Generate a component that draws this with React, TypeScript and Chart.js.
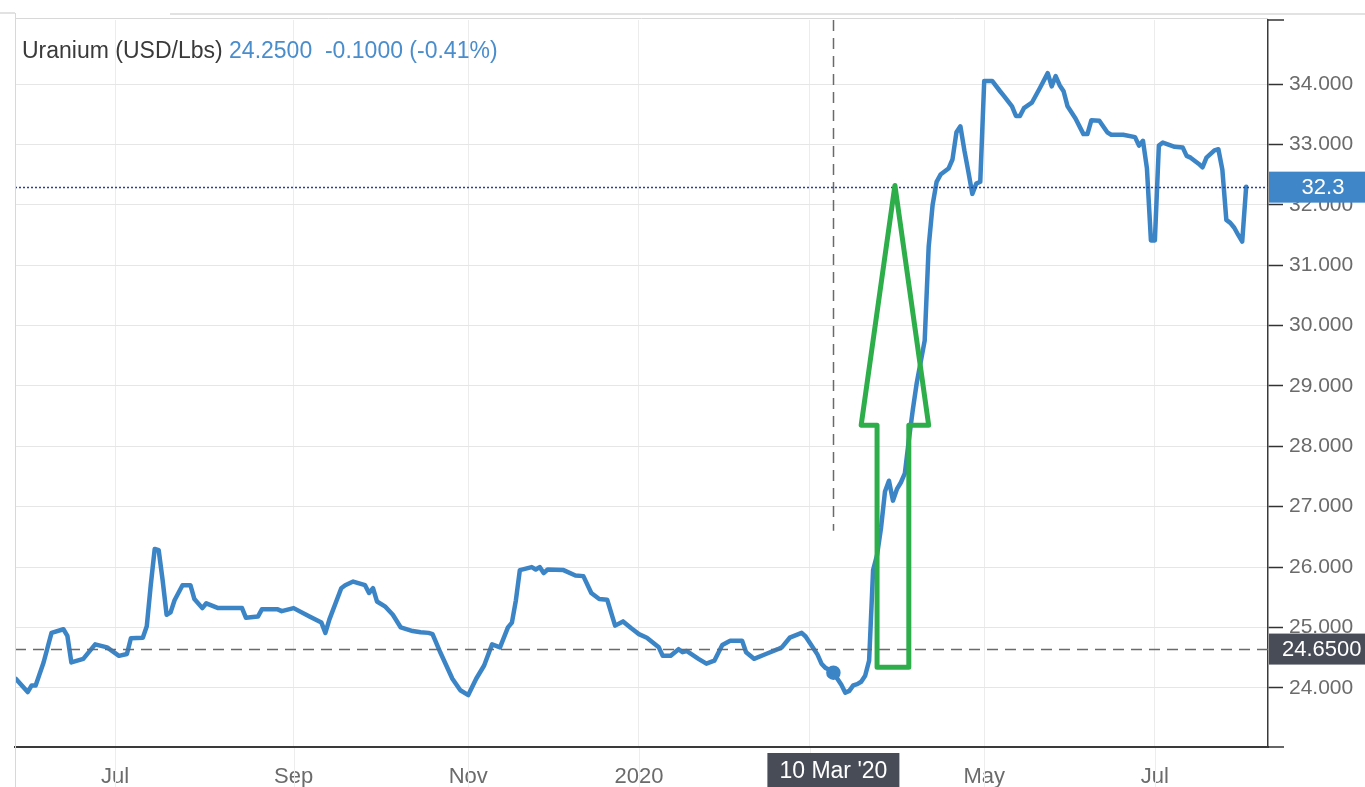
import React, { useEffect, useRef } from 'react';
import { Chart, registerables } from 'chart.js';

Chart.register(...registerables);

// ---------------- DATA ----------------
const dates: string[] = [
  '2019-05-27','2019-05-30','2019-05-31','2019-06-03','2019-06-05','2019-06-07','2019-06-12','2019-06-13','2019-06-14','2019-06-19',
  '2019-06-24','2019-06-27','2019-07-02','2019-07-04','2019-07-05','2019-07-10','2019-07-11','2019-07-12','2019-07-15','2019-07-16',
  '2019-07-17','2019-07-18','2019-07-19','2019-07-22','2019-07-24','2019-07-26','2019-07-29','2019-07-31','2019-08-01','2019-08-06',
  '2019-08-14','2019-08-15','2019-08-20','2019-08-21','2019-08-27','2019-08-28','2019-09-02','2019-09-06','2019-09-11','2019-09-12',
  '2019-09-13','2019-09-18','2019-09-19','2019-09-23','2019-09-26','2019-09-27','2019-09-30','2019-10-01','2019-10-03','2019-10-07',
  '2019-10-09','2019-10-14','2019-10-16','2019-10-18','2019-10-21','2019-10-23','2019-10-28','2019-10-30','2019-11-01','2019-11-05',
  '2019-11-07','2019-11-11','2019-11-13','2019-11-15','2019-11-18','2019-11-19','2019-11-20','2019-11-25','2019-11-26','2019-11-27',
  '2019-11-28','2019-11-29','2019-12-05','2019-12-10','2019-12-12','2019-12-16','2019-12-18','2019-12-20','2019-12-24','2019-12-26',
  '2019-12-30','2020-01-01','2020-01-03','2020-01-08','2020-01-09','2020-01-13','2020-01-15','2020-01-16','2020-01-17','2020-01-22',
  '2020-01-24','2020-01-28','2020-01-30','2020-02-03','2020-02-06','2020-02-07','2020-02-11','2020-02-14','2020-02-19','2020-02-20',
  '2020-02-24','2020-02-27','2020-02-28','2020-03-02','2020-03-04','2020-03-05','2020-03-06','2020-03-09','2020-03-10','2020-03-12',
  '2020-03-13','2020-03-16','2020-03-17','2020-03-18','2020-03-19','2020-03-20','2020-03-23','2020-03-24','2020-03-25','2020-03-26',
  '2020-03-27','2020-03-30','2020-03-31','2020-04-01','2020-04-02','2020-04-03','2020-04-06','2020-04-07','2020-04-08','2020-04-09',
  '2020-04-10','2020-04-13','2020-04-14','2020-04-15','2020-04-16','2020-04-17','2020-04-20','2020-04-21','2020-04-22','2020-04-23',
  '2020-04-24','2020-04-27','2020-04-28','2020-04-29','2020-04-30','2020-05-01','2020-05-05','2020-05-07','2020-05-08','2020-05-12',
  '2020-05-13','2020-05-14','2020-05-15','2020-05-19','2020-05-21','2020-05-25','2020-05-26','2020-05-27','2020-05-28','2020-05-29',
  '2020-06-01','2020-06-03','2020-06-05','2020-06-08','2020-06-09','2020-06-11','2020-06-15','2020-06-16','2020-06-19','2020-06-24',
  '2020-06-25','2020-06-26','2020-06-29','2020-06-30','2020-07-01','2020-07-02','2020-07-03','2020-07-08','2020-07-10','2020-07-13',
  '2020-07-14','2020-07-16','2020-07-17','2020-07-20','2020-07-22','2020-07-23','2020-07-24','2020-07-27','2020-07-28','2020-07-29',
  '2020-07-30','2020-07-31','2020-08-03',
];

const prices: number[] = [
  24.15,23.93,24.04,24.04,24.42,24.91,24.97,24.86,24.42,24.48,
  24.72,24.67,24.53,24.56,24.82,24.83,25.02,25.70,26.30,26.28,
  25.78,25.21,25.25,25.45,25.70,25.70,25.47,25.32,25.40,25.32,
  25.32,25.16,25.18,25.30,25.30,25.27,25.32,25.18,25.08,24.91,
  25.13,25.65,25.70,25.76,25.70,25.57,25.65,25.43,25.35,25.21,
  25.00,24.94,24.92,24.91,24.89,24.58,24.15,23.96,23.88,24.15,
  24.37,24.72,24.67,25.00,25.08,25.45,25.95,26.00,25.96,26.00,
  25.90,25.96,25.95,25.86,25.85,25.57,25.47,25.46,25.03,25.10,
  24.99,24.89,24.83,24.67,24.53,24.53,24.64,24.59,24.61,24.48,
  24.40,24.45,24.71,24.78,24.78,24.59,24.48,24.56,24.64,24.67,
  24.83,24.91,24.85,24.75,24.55,24.40,24.33,24.30,24.25,24.05,
  23.92,23.95,24.04,24.06,24.10,24.20,24.45,25.95,26.20,26.65,
  27.25,27.43,27.10,27.29,27.40,27.55,28.10,28.60,29.05,29.40,
  29.75,31.30,32.00,32.38,32.50,32.55,32.60,32.75,33.20,33.30,
  32.90,32.55,32.18,32.35,32.38,34.05,34.05,33.88,33.80,33.63,
  33.47,33.47,33.60,33.69,33.93,34.18,33.96,34.13,33.98,33.88,
  33.63,33.43,33.17,33.17,33.40,33.39,33.20,33.16,33.16,33.12,
  32.98,33.06,32.60,31.41,31.41,32.98,33.03,32.96,32.95,32.81,
  32.78,32.68,32.62,32.78,32.90,32.92,32.58,31.75,31.70,31.62,
  31.50,31.39,32.30,
];

const monthTickDates: string[] = ['2019-07-01','2019-09-02','2019-11-01','2020-01-01','2020-03-02','2020-05-01','2020-07-01'];
const monthTickLabels: string[] = ['Jul','Sep','Nov','2020','Mar','May','Jul'];
const yTickValues: number[] = [24, 25, 26, 27, 28, 29, 30, 31, 32, 33, 34];

const titleName = 'Uranium (USD/Lbs) ';
const titleValues = '24.2500  -0.1000 (-0.41%)';
const crosshairDate = '2020-03-10';
const crosshairDateLabel = "10 Mar '20";
const crosshairPrice = 24.65;
const crosshairPriceLabel = '24.6500';
const crosshairTopValue = 26.6;
const lastPrice = 32.3;
const lastPriceLabel = '32.3';

// green arrow annotation (data coordinates)
const arrowShaftDates: string[] = ['2020-03-25', '2020-04-06'];
const arrowHeadDates: string[] = ['2020-03-19', '2020-04-13'];
const arrowBaseValue = 24.34;
const arrowNeckValue = 28.35;
const arrowTipValue = 32.32;

const X_START = '2019-05-27';
const X_END = '2020-08-10';
const Y_MIN = 23.02;
const Y_MAX = 35.06;

// ---------------- helpers ----------------
const BASE = Date.UTC(2019, 6, 1); // Monday
function tradingIndex(s: string): number {
  const [y, m, d] = s.split('-').map(Number);
  const days = Math.round((Date.UTC(y, m - 1, d) - BASE) / 86400000);
  const w = Math.floor(days / 7);
  const r = days - 7 * w;
  return 5 * w + Math.min(r, 5);
}

const FONT = '"Liberation Sans", Arial, Helvetica, sans-serif';
const monthTickIdx = monthTickDates.map(tradingIndex);

export default function App() {
  const ref = useRef<HTMLCanvasElement>(null);

  useEffect(() => {
    document.body.style.margin = '0';
    const canvas = ref.current!;
    const points = dates.map((d, i) => ({ x: tradingIndex(d), y: prices[i] }));
    const hoverIdx = dates.indexOf(crosshairDate);

    const overlay = {
      id: 'overlay',
      beforeDraw(chart: any) {
        const c = chart.ctx;
        c.save();
        c.fillStyle = '#ffffff';
        c.fillRect(0, 0, chart.width, chart.height);
        c.restore();
      },
      afterDatasetsDraw(chart: any) {
        const c = chart.ctx;
        const xs = chart.scales.x;
        const ys = chart.scales.y;
        const a = chart.chartArea;
        c.save();
        // last price dotted line
        c.strokeStyle = '#2a3db0';
        c.lineWidth = 1.5;
        c.setLineDash([2, 2]);
        const yl = Math.round(ys.getPixelForValue(lastPrice)) + 0.5;
        c.beginPath(); c.moveTo(a.left, yl); c.lineTo(a.right, yl); c.stroke();
        // crosshair horizontal
        c.strokeStyle = '#6a6a6a';
        c.setLineDash([11, 7]);
        const yc = Math.round(ys.getPixelForValue(crosshairPrice)) + 0.5;
        c.beginPath(); c.moveTo(a.left, yc); c.lineTo(a.right, yc); c.stroke();
        // crosshair vertical
        const xc = Math.round(xs.getPixelForValue(tradingIndex(crosshairDate))) + 0.5;
        c.beginPath(); c.moveTo(xc, a.top); c.lineTo(xc, ys.getPixelForValue(crosshairTopValue)); c.stroke();
        c.setLineDash([]);
        // green arrow
        const sl = xs.getPixelForValue(tradingIndex(arrowShaftDates[0]));
        const sr = xs.getPixelForValue(tradingIndex(arrowShaftDates[1]));
        const hl = xs.getPixelForValue(tradingIndex(arrowHeadDates[0]));
        const hr = xs.getPixelForValue(tradingIndex(arrowHeadDates[1]));
        const tipX = (hl + hr) / 2;
        const yb = ys.getPixelForValue(arrowBaseValue);
        const yn = ys.getPixelForValue(arrowNeckValue);
        const yt = ys.getPixelForValue(arrowTipValue);
        c.strokeStyle = '#2eae4a';
        c.lineWidth = 5;
        c.lineJoin = 'round';
        c.beginPath();
        c.moveTo(sl, yb); c.lineTo(sr, yb); c.lineTo(sr, yn); c.lineTo(hr, yn);
        c.lineTo(tipX, yt); c.lineTo(hl, yn); c.lineTo(sl, yn); c.closePath();
        c.stroke();
        c.restore();
      },
      afterDraw(chart: any) {
        const c = chart.ctx;
        const xs = chart.scales.x;
        const ys = chart.scales.y;
        const a = chart.chartArea;
        const W = chart.width;
        const H = chart.height;
        c.save();
        // frame lines
        c.strokeStyle = '#d8d8d8';
        c.lineWidth = 1;
        c.beginPath(); c.moveTo(a.left + 0.5, 13); c.lineTo(a.left + 0.5, H); c.stroke();
        c.beginPath(); c.moveTo(a.left, a.top - 1.5); c.lineTo(a.right, a.top - 1.5); c.stroke();
        c.strokeStyle = '#e2e2e2';
        c.lineWidth = 2;
        c.beginPath(); c.moveTo(170, 14); c.lineTo(W, 14); c.stroke();
        c.beginPath(); c.moveTo(0, 13); c.lineTo(a.left, 13); c.stroke();
        // x grid extension below axis
        c.strokeStyle = '#ededed';
        c.lineWidth = 1;
        monthTickIdx.forEach((t) => {
          const px = Math.round(xs.getPixelForValue(t)) + 0.5;
          c.beginPath(); c.moveTo(px, a.bottom + 1); c.lineTo(px, H); c.stroke();
        });
        // right axis end ticks
        c.strokeStyle = '#333';
        c.lineWidth = 1.5;
        c.beginPath(); c.moveTo(a.right, a.top); c.lineTo(a.right + 16, a.top); c.stroke();
        c.beginPath(); c.moveTo(a.right, a.bottom); c.lineTo(a.right + 16, a.bottom); c.stroke();

        // last price label box
        const yl = ys.getPixelForValue(lastPrice);
        c.fillStyle = '#3f86c9';
        c.fillRect(a.right + 1, yl - 15, W - a.right, 31);
        c.fillStyle = '#ffffff';
        c.font = `22px ${FONT}`;
        c.textAlign = 'center';
        c.textBaseline = 'middle';
        c.fillText(lastPriceLabel, a.right + 55, yl + 1);

        // crosshair price box
        const yc = ys.getPixelForValue(crosshairPrice);
        c.fillStyle = '#474c57';
        c.fillRect(a.right + 1, yc - 15, W - a.right, 31);
        c.fillStyle = '#ffffff';
        c.textAlign = 'left';
        c.fillText(crosshairPriceLabel, a.right + 14, yc + 1);

        // crosshair date box
        const xc = xs.getPixelForValue(tradingIndex(crosshairDate));
        c.fillStyle = '#474c57';
        c.fillRect(xc - 66, a.bottom + 6, 132, H - a.bottom - 6);
        c.fillStyle = '#ffffff';
        c.font = `23px ${FONT}`;
        c.textAlign = 'center';
        c.fillText(crosshairDateLabel, xc, a.bottom + 25);

        // title
        c.font = `23px ${FONT}`;
        c.textAlign = 'left';
        c.textBaseline = 'middle';
        c.fillStyle = '#3a3a3a';
        c.fillText(titleName, 22, 52);
        const w1 = c.measureText(titleName).width;
        c.fillStyle = '#4a8dcc';
        c.fillText(titleValues, 22 + w1, 52);
        c.restore();
      },
    };

    const chart = new Chart(canvas, {
      type: 'line',
      data: {
        datasets: [
          {
            label: 'Uranium',
            data: points,
            borderColor: '#3b84c6',
            backgroundColor: '#3b84c6',
            borderWidth: 4.5,
            borderJoinStyle: 'round',
            borderCapStyle: 'round',
            tension: 0,
            pointRadius: (ctx: any) => (ctx.dataIndex === hoverIdx ? 5 : 0),
            pointHoverRadius: 0,
            fill: false,
          },
        ],
      },
      options: {
        responsive: false,
        animation: false,
        events: [],
        layout: { padding: { left: 15, top: 20, right: 0, bottom: 0 } },
        plugins: { legend: { display: false }, tooltip: { enabled: false }, title: { display: false } },
        scales: {
          x: {
            type: 'linear',
            min: tradingIndex(X_START) - 0.2,
            max: tradingIndex(X_END) + 0.5,
            afterBuildTicks: (scale: any) => {
              scale.ticks = monthTickIdx.map((v) => ({ value: v }));
            },
            afterFit: (scale: any) => {
              scale.height = 40;
            },
            ticks: {
              autoSkip: false,
              maxRotation: 0,
              padding: 17,
              color: '#6b6b6b',
              font: { family: FONT, size: 22 },
              callback: (v: any) => {
                const i = monthTickIdx.indexOf(Number(v));
                return i >= 0 ? monthTickLabels[i] : '';
              },
            },
            grid: { color: '#ececec', drawTicks: false, lineWidth: 1 },
            border: { display: true, color: '#3a3a3a', width: 2 },
          },
          y: {
            type: 'linear',
            position: 'right',
            min: Y_MIN,
            max: Y_MAX,
            afterBuildTicks: (scale: any) => {
              scale.ticks = yTickValues.map((v) => ({ value: v }));
            },
            afterFit: (scale: any) => {
              scale.width = 97;
            },
            ticks: {
              padding: 6,
              color: '#6b6b6b',
              font: { family: FONT, size: 21 },
              callback: (v: any) => Number(v).toFixed(3),
            },
            grid: { color: '#e6e6e6', drawTicks: true, tickLength: 15, tickColor: '#333', tickWidth: 1.5, lineWidth: 1 },
            border: { display: true, color: '#3a3a3a', width: 1.5 },
          },
        },
      },
      plugins: [overlay],
    } as any);

    return () => chart.destroy();
  }, []);

  return (
    <div style={{ position: 'fixed', left: 0, top: 0, width: 1365, height: 787, background: '#fff', overflow: 'hidden' }}>
      <canvas ref={ref} width={1365} height={787} style={{ display: 'block', width: 1365, height: 787 }} />
    </div>
  );
}
